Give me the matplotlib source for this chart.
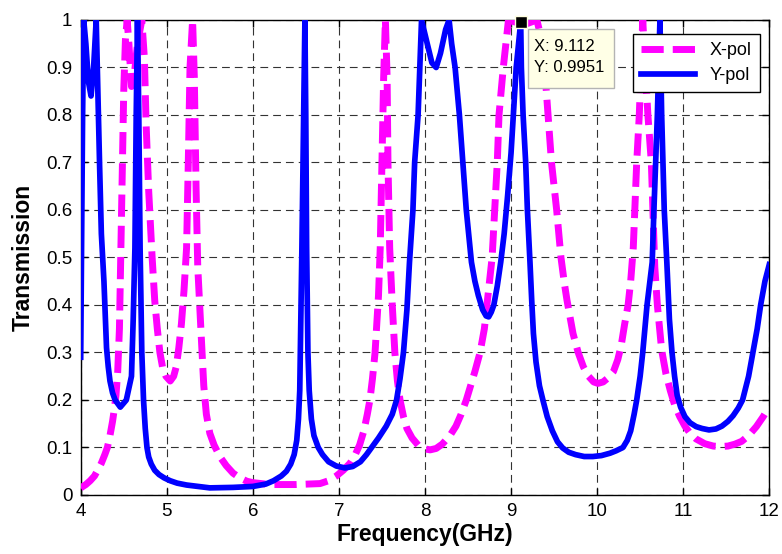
import numpy as np
import matplotlib
matplotlib.use('Agg')
import matplotlib.pyplot as plt
from matplotlib.patches import Rectangle

plt.rcParams['font.family'] = ['Liberation Sans', 'DejaVu Sans']

# X-pol (dashed magenta)
fx = [4.00, 4.06, 4.11, 4.16, 4.20, 4.24, 4.28, 4.31, 4.34, 4.37, 4.39, 4.41, 4.43, 4.45,
      4.46, 4.48, 4.50, 4.52, 4.54, 4.56, 4.59, 4.62, 4.66, 4.71, 4.74, 4.76, 4.79,
      4.83, 4.86, 4.89, 4.92, 4.95, 4.99, 5.04, 5.08, 5.11, 5.14, 5.17, 5.20, 5.23,
      5.25, 5.27, 5.30, 5.32, 5.34, 5.36, 5.39, 5.41, 5.43, 5.46, 5.50, 5.55, 5.62,
      5.69, 5.77, 5.85, 5.93, 6.00, 6.20, 6.50, 6.78, 6.88, 6.97, 7.05, 7.13, 7.19,
      7.24, 7.29, 7.33, 7.36, 7.39, 7.42, 7.46, 7.48, 7.50, 7.52, 7.54, 7.56, 7.57,
      7.59, 7.62, 7.65, 7.68, 7.71, 7.75, 7.79, 7.85, 7.92, 8.00, 8.06, 8.13, 8.20,
      8.29, 8.36, 8.42, 8.48, 8.53, 8.58, 8.64, 8.69, 8.72, 8.78, 8.81, 8.84, 8.86,
      8.91, 8.97, 9.15, 9.30, 9.34, 9.39, 9.43, 9.47, 9.53, 9.58, 9.62, 9.65, 9.69,
      9.72, 9.78, 9.84, 9.90, 9.96, 10.01, 10.07, 10.13, 10.19, 10.24, 10.28, 10.32,
      10.36, 10.39, 10.42, 10.46, 10.49, 10.53, 10.59, 10.63, 10.67, 10.70, 10.75,
      10.80, 10.85, 10.90, 10.96, 11.02, 11.08, 11.15, 11.25, 11.35, 11.43, 11.52,
      11.60, 11.68, 11.76, 11.85, 11.93, 12.00]
tx = [0.015, 0.022, 0.03, 0.04, 0.053, 0.067, 0.085, 0.10, 0.125, 0.155, 0.18, 0.21, 0.26, 0.35,
      0.45, 0.65, 0.85, 0.96, 1.0, 0.95, 0.86, 0.88, 0.95, 1.0, 0.92, 0.78, 0.64,
      0.50, 0.41, 0.35, 0.30, 0.27, 0.25, 0.24, 0.25, 0.27, 0.31, 0.36, 0.43, 0.52,
      0.70, 0.90, 1.0, 0.88, 0.65, 0.48, 0.37, 0.30, 0.23, 0.17, 0.13, 0.105, 0.08,
      0.062, 0.046, 0.036, 0.029, 0.026, 0.022, 0.022, 0.024, 0.03, 0.04, 0.052, 0.067, 0.085,
      0.105, 0.135, 0.17, 0.20, 0.245, 0.30, 0.42, 0.52, 0.70, 0.88, 1.0, 0.88, 0.70,
      0.52, 0.40, 0.30, 0.24, 0.20, 0.165, 0.14, 0.12, 0.105, 0.097, 0.095, 0.098, 0.107,
      0.125, 0.145, 0.17, 0.20, 0.23, 0.26, 0.30, 0.35, 0.40, 0.50, 0.60, 0.70, 0.80,
      0.90, 1.0, 0.99, 1.0, 0.97, 0.90, 0.80, 0.70, 0.60, 0.50, 0.445, 0.41, 0.37,
      0.34, 0.30, 0.27, 0.25, 0.238, 0.235, 0.238, 0.247, 0.26, 0.285, 0.315, 0.36,
      0.40, 0.45, 0.52, 0.70, 0.80, 1.0, 0.80, 0.70, 0.48, 0.40, 0.305,
      0.255, 0.22, 0.19, 0.165, 0.145, 0.13, 0.118, 0.108, 0.103, 0.102, 0.103,
      0.107, 0.113, 0.125, 0.144, 0.165, 0.186]

# Y-pol (solid blue)
fy = [4.000, 4.010, 4.022, 4.035, 4.06, 4.09, 4.12, 4.15, 4.18, 4.20, 4.22, 4.24, 4.27,
      4.30, 4.32, 4.34, 4.37, 4.40, 4.46, 4.53, 4.59, 4.61, 4.63, 4.645, 4.66, 4.675,
      4.69, 4.71, 4.73, 4.75, 4.77, 4.79, 4.82, 4.86, 4.91, 4.97, 5.04, 5.12, 5.23,
      5.50, 5.77, 6.00, 6.15, 6.24, 6.33, 6.39, 6.44, 6.48, 6.51, 6.53, 6.545, 6.57,
      6.59, 6.605, 6.615, 6.625, 6.64, 6.655, 6.68, 6.71, 6.76, 6.81, 6.88, 6.97, 7.07,
      7.16, 7.25, 7.32, 7.38, 7.46, 7.55, 7.62, 7.67, 7.71, 7.75, 7.79, 7.82, 7.86,
      7.88, 7.92, 7.94, 7.96, 8.04, 8.08, 8.13, 8.18, 8.24, 8.28, 8.31, 8.35, 8.40,
      8.44, 8.48, 8.54, 8.58, 8.62, 8.67, 8.71, 8.74, 8.77, 8.80, 8.84, 8.88, 8.92,
      8.96, 9.00, 9.03, 9.06, 9.112, 9.12, 9.14, 9.17, 9.19, 9.22, 9.24, 9.26, 9.29,
      9.33, 9.37, 9.42, 9.48, 9.54, 9.60, 9.67, 9.75, 9.85, 9.95, 10.05, 10.15, 10.22,
      10.30, 10.35, 10.39, 10.43, 10.46, 10.50, 10.53, 10.58, 10.64, 10.66, 10.70,
      10.73, 10.75, 10.78, 10.81, 10.84, 10.87, 10.90, 10.93, 10.97, 11.02, 11.08,
      11.15, 11.22, 11.30, 11.38, 11.45, 11.52, 11.58, 11.64, 11.69, 11.76, 11.81,
      11.86, 11.90, 11.95, 12.00]
ty = [0.29, 0.52, 0.80, 1.0, 0.95, 0.87, 0.84, 0.90, 1.0, 0.84, 0.69, 0.55, 0.45,
      0.31, 0.27, 0.24, 0.215, 0.20, 0.185, 0.20, 0.25, 0.37, 0.52, 0.80, 1.0, 0.80,
      0.52, 0.30, 0.20, 0.14, 0.10, 0.08, 0.065, 0.052, 0.043, 0.036, 0.03, 0.025, 0.021,
      0.015, 0.016, 0.018, 0.023, 0.03, 0.04, 0.05, 0.065, 0.085, 0.115, 0.16, 0.22, 0.52,
      0.80, 1.0, 0.80, 0.52, 0.30, 0.22, 0.16, 0.125, 0.10, 0.085, 0.07, 0.061, 0.057,
      0.06, 0.07, 0.085, 0.10, 0.12, 0.145, 0.17, 0.20, 0.245, 0.30, 0.39, 0.49, 0.60,
      0.70, 0.80, 0.90, 1.0, 0.94, 0.91, 0.90, 0.93, 0.98, 1.0, 0.95, 0.90, 0.80,
      0.70, 0.60, 0.49, 0.45, 0.42, 0.39, 0.377, 0.375, 0.385, 0.40, 0.44, 0.49, 0.55,
      0.63, 0.72, 0.81, 0.90, 0.9951, 0.90, 0.80, 0.70, 0.60, 0.49, 0.41, 0.34, 0.28,
      0.23, 0.20, 0.165, 0.135, 0.112, 0.099, 0.09, 0.085, 0.081, 0.081, 0.083, 0.088, 0.093,
      0.10, 0.115, 0.135, 0.17, 0.20, 0.25, 0.30, 0.40, 0.49, 0.60, 0.80,
      1.0, 0.80, 0.60, 0.49, 0.37, 0.30, 0.25, 0.21, 0.185, 0.165, 0.152,
      0.144, 0.14, 0.137, 0.139, 0.145, 0.155, 0.167, 0.183, 0.20, 0.25, 0.30,
      0.35, 0.40, 0.45, 0.485]

tip_x, tip_y = 9.112, 0.9951

fig = plt.figure(figsize=(7.82, 5.54), dpi=100)
ax = fig.add_axes([0.1032, 0.1065, 0.8805, 0.8574])

ax.plot(fx, tx, color='#FF00FF', lw=5.0, dashes=(3.2, 1.3), dash_capstyle='butt', label='X-pol', zorder=3)
ax.plot(fy, ty, color='#0000FF', lw=4.1, label='Y-pol', zorder=4)

ax.set_xlim(4, 12)
ax.set_ylim(0, 1)
ax.set_xticks(np.arange(4, 13, 1))
ax.set_yticks(np.arange(0, 1.01, 0.1))
ax.set_yticklabels(['0', '0.1', '0.2', '0.3', '0.4', '0.5', '0.6', '0.7', '0.8', '0.9', '1'])
ax.tick_params(direction='in', top=True, right=True, length=5, width=1, labelsize=13.5, pad=6)
ax.grid(True, color='0.2', lw=0.8, linestyle=(0, (7, 4.5)))
ax.set_axisbelow(True)
for s in ax.spines.values():
    s.set_linewidth(1.0)

ax.set_xlabel('Frequency(GHz)', fontsize=16.5, fontweight='bold', labelpad=2)
ax.set_ylabel('Transmission', fontsize=16.5, fontweight='bold', labelpad=8)

leg = ax.legend(loc='upper right', bbox_to_anchor=(0.9865, 0.9705), borderaxespad=0,
                fontsize=13, fancybox=False, framealpha=1, edgecolor='k',
                handlelength=3.0, handletextpad=0.8, borderpad=0.45, labelspacing=0.45)
leg.get_frame().set_linewidth(1.0)

# data tip
ax.plot([tip_x], [tip_y], 's', color='k', ms=8.5, mec='#FFFFE0', mew=1, clip_on=False, zorder=6)
fig.patches.append(Rectangle((0.6752, 0.8412), 0.110, 0.1065, transform=fig.transFigure,
                             facecolor='#FFFFE6', edgecolor='#B4B4B4', lw=1, zorder=5))
fig.text(0.683, 0.9152, 'X: %.3f' % tip_x, fontsize=12, va='center', zorder=6)
fig.text(0.683, 0.8773, 'Y: %.4f' % tip_y, fontsize=12, va='center', zorder=6)

plt.savefig('out.png', dpi=100)
